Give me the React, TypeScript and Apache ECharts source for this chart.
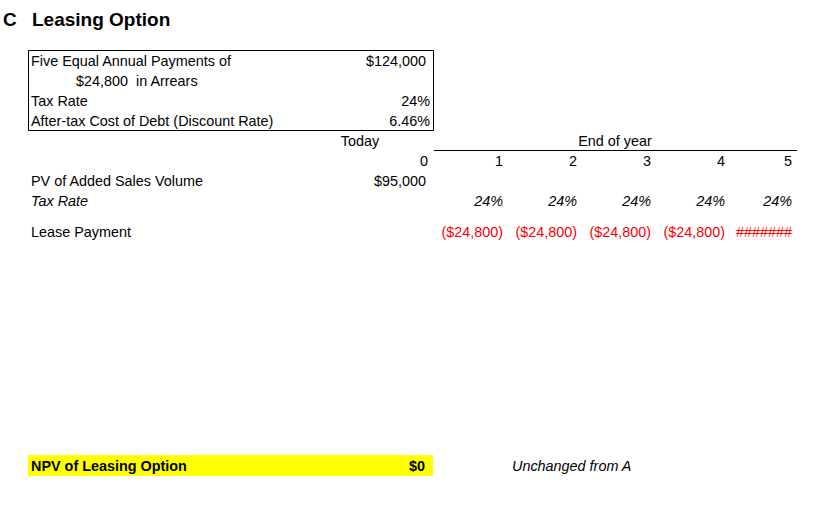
import React, { useEffect, useRef } from "react";
import * as echarts from "echarts";

// ---- data ----
const sectionLetter = "C";
const sectionTitle = "Leasing Option";
const boxLabels = ["Five Equal Annual Payments of", "$24,800  in Arrears", "Tax Rate", "After-tax Cost of Debt (Discount Rate)"];
const boxValues = ["$124,000", "", "24%", "6.46%"];
const years = ["0", "1", "2", "3", "4", "5"];
const pvSalesVolume = ["$95,000", "", "", "", "", ""];
const taxRates = ["", "24%", "24%", "24%", "24%", "24%"];
const leasePayments = ["", "($24,800)", "($24,800)", "($24,800)", "($24,800)", "#######"];
const rowLabels = ["PV of Added Sales Volume", "Tax Rate", "Lease Payment"];
const npvLabel = "NPV of Leasing Option";
const npvValue = "$0";
const npvNote = "Unchanged from A";

// ---- layout ----
const FONT = '"Liberation Sans", Arial, sans-serif';
const colRight = [428, 503, 577, 651, 725, 792];
const LEFT = 31;
const FS = 14.4;

export default function App() {
  const ref = useRef<HTMLDivElement>(null);
  useEffect(() => {
    if (!ref.current) return;
    const chart = echarts.init(ref.current, undefined, { renderer: "svg" });
    const g: any[] = [];
    const txt = (text: string, x: number, y: number, align: string, opts: any = {}) => {
      g.push({
        type: "text",
        x,
        y,
        style: {
          text,
          textAlign: align,
          textVerticalAlign: "middle",
          font: `${opts.italic ? "italic " : ""}${opts.bold ? "bold " : ""}${opts.size || FS}px ${FONT}`,
          fill: opts.color || "#000",
        },
        z: 10,
      });
    };
    // title
    txt(sectionLetter, 3, 19, "left", { bold: true, size: 19 });
    txt(sectionTitle, 32, 19, "left", { bold: true, size: 19 });
    // box
    g.push({ type: "rect", shape: { x: 28.5, y: 50.5, width: 405, height: 80 }, style: { fill: "none", stroke: "#000", lineWidth: 1 } });
    boxLabels.forEach((l, i) => {
      txt(l, i === 1 ? 76 : LEFT, 61 + i * 20, "left");
      if (boxValues[i]) txt(boxValues[i], i === 0 ? 426 : 430, 61 + i * 20, "right");
    });
    // header
    txt("Today", 360, 141, "center");
    txt("End of year", 615, 141, "center");
    g.push({ type: "line", shape: { x1: 434, y1: 150.5, x2: 797, y2: 150.5 }, style: { stroke: "#000", lineWidth: 1 } });
    years.forEach((y, i) => txt(y, colRight[i], 161, "right"));
    // rows
    txt(rowLabels[0], LEFT, 181, "left");
    pvSalesVolume.forEach((v, i) => v && txt(v, colRight[i] - 2, 181, "right"));
    txt(rowLabels[1], LEFT, 201, "left", { italic: true });
    taxRates.forEach((v, i) => v && txt(v, colRight[i], 201, "right", { italic: true }));
    txt(rowLabels[2], LEFT, 232, "left");
    leasePayments.forEach((v, i) => v && txt(v, colRight[i], 232, "right", { color: "#ff0000" }));
    // NPV
    g.push({ type: "rect", shape: { x: 28, y: 455, width: 405, height: 21 }, style: { fill: "#ffff00" } });
    txt(npvLabel, LEFT, 466, "left", { bold: true });
    txt(npvValue, 425, 466, "right", { bold: true });
    txt(npvNote, 512, 466, "left", { italic: true });

    chart.setOption({ animation: false, backgroundColor: "#fff", graphic: g });
    return () => chart.dispose();
  }, []);
  return <div ref={ref} style={{ position: "fixed", left: 0, top: 0, width: 829, height: 513 }} />;
}
